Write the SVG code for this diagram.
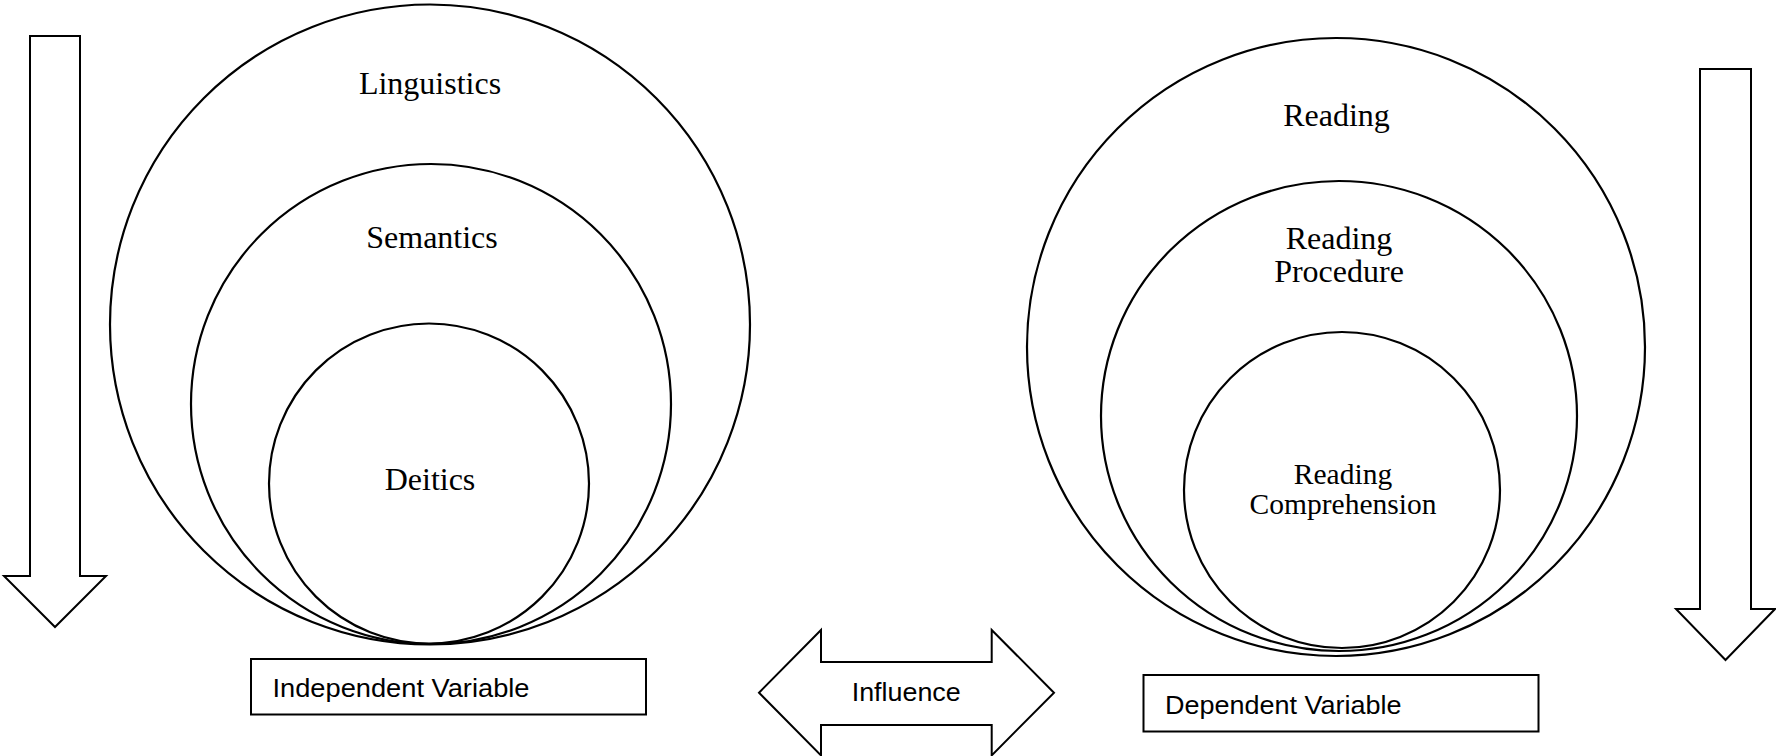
<svg xmlns="http://www.w3.org/2000/svg" width="1776" height="756" viewBox="0 0 1776 756">
<style>
.shape{fill:#fff;stroke:#000;stroke-width:2}
.circ{fill:none;stroke:#000;stroke-width:2.2}
.serif{font-family:"Liberation Serif","Times New Roman",serif;font-size:32px;fill:#000;text-anchor:middle}
.sans{font-family:"Liberation Sans",Arial,sans-serif;font-size:26px;fill:#000}
</style>
<rect width="1776" height="756" fill="#fff"/>
<g id="connectors">
<polygon id="arrow-left" class="shape" points="30,36 80,36 80,576 106,576 55,627 4,576 30,576"/>
<polygon id="arrow-right" class="shape" points="1700,69 1751,69 1751,609 1775,609 1725.5,660 1676,609 1700,609"/>
</g>
<g id="linguistics">
<circle class="circ" cx="430" cy="324.5" r="320"/>
<text class="serif" x="430" y="93.5">Linguistics</text>
</g>
<g id="semantics">
<circle class="circ" cx="431" cy="404" r="240"/>
<text class="serif" x="432" y="248">Semantics</text>
</g>
<g id="deitics">
<circle class="circ" cx="429" cy="483.5" r="160"/>
<text class="serif" x="430" y="489.5">Deitics</text>
</g>
<g id="reading">
<circle class="circ" cx="1336" cy="347" r="309"/>
<text class="serif" x="1336.5" y="125.5">Reading</text>
</g>
<g id="reading-procedure">
<ellipse class="circ" cx="1339" cy="416" rx="238" ry="235"/>
<text class="serif" x="1339" y="249">Reading</text>
<text class="serif" x="1339" y="282">Procedure</text>
</g>
<g id="reading-comprehension">
<circle class="circ" cx="1342" cy="490" r="158"/>
<text class="serif" x="1343" y="483.5" style="font-size:29.5px">Reading</text>
<text class="serif" x="1343" y="514" style="font-size:29.5px">Comprehension</text>
</g>
<g id="independent-variable">
<rect class="shape" x="251" y="659" width="395" height="55.5"/>
<text class="sans" x="272.5" y="696.5" textLength="257" lengthAdjust="spacingAndGlyphs">Independent Variable</text>
</g>
<g id="influence">
<polygon class="shape" points="759,692.7 821,630 821,662 991.7,662 991.7,630 1054,692.7 991.7,755.4 991.7,725 821,725 821,755.4"/>
<text class="sans" x="851.7" y="701" textLength="109" lengthAdjust="spacingAndGlyphs">Influence</text>
</g>
<g id="dependent-variable">
<rect class="shape" x="1143.5" y="675" width="395" height="56.5"/>
<text class="sans" x="1165" y="713.5" textLength="236.5" lengthAdjust="spacingAndGlyphs">Dependent Variable</text>
</g>
</svg>
